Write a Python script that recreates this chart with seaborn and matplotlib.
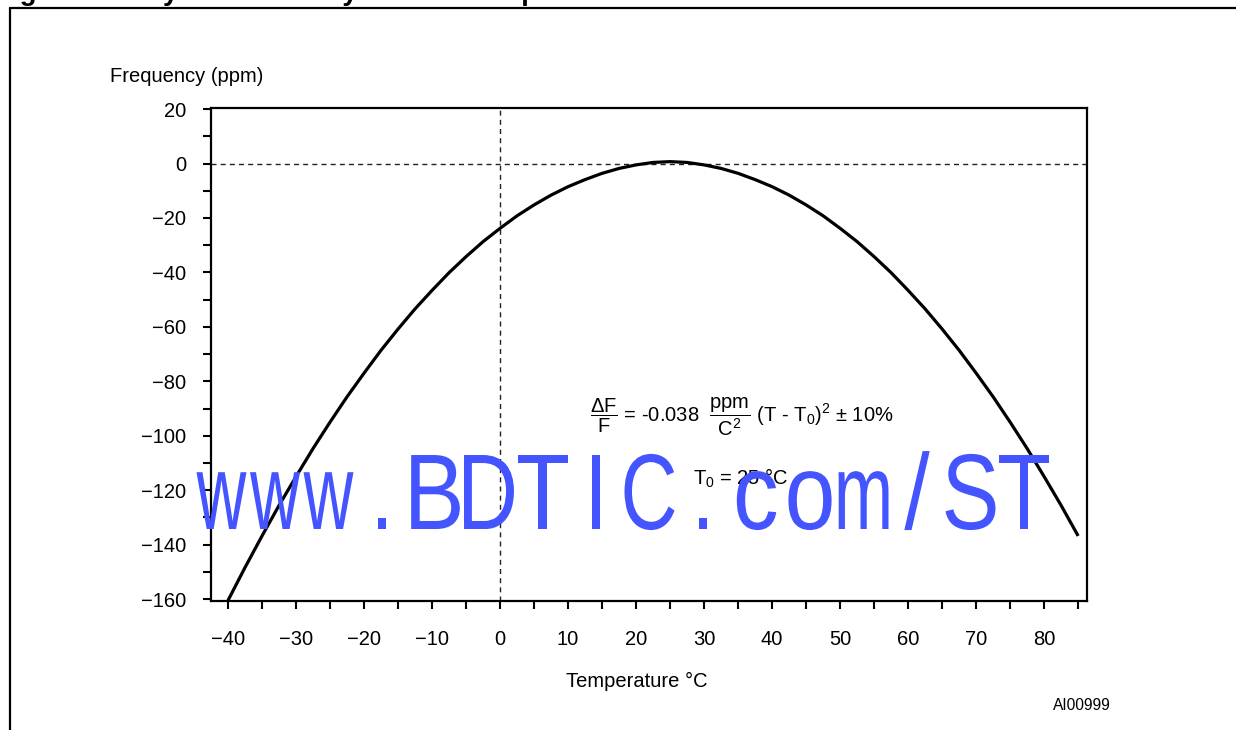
import matplotlib
matplotlib.use('Agg')
import matplotlib.pyplot as plt
import seaborn as sns
from matplotlib.lines import Line2D
from matplotlib.textpath import TextPath
from matplotlib.patches import PathPatch
from matplotlib.font_manager import FontProperties
from matplotlib.transforms import Affine2D, IdentityTransform

# Crystal frequency deviation, every 2.5 degrees
temperature = [-40, -37.5, -35, -32.5, -30, -27.5, -25, -22.5, -20, -17.5, -15, -12.5,
               -10, -7.5, -5, -2.5, 0, 2.5, 5, 7.5, 10, 12.5, 15, 17.5, 20, 22.5,
               25, 27.5, 30, 32.5, 35, 37.5, 40, 42.5, 45, 47.5, 50, 52.5, 55, 57.5,
               60, 62.5, 65, 67.5, 70, 72.5, 75, 77.5, 80, 82.5, 85]
frequency = [-160.5, -148.4, -136.8, -125.6, -115.0, -104.7, -95.0, -85.7, -77.0, -68.6,
             -60.8, -53.4, -46.6, -40.1, -34.2, -28.7, -23.8, -19.2, -15.2, -11.6,
             -8.5, -5.9, -3.6, -1.8, -0.5, 0.4, 0.7, 0.4, -0.5, -1.8, -3.6, -5.9,
             -8.5, -11.6, -15.2, -19.2, -23.8, -28.7, -34.2, -40.1, -46.6, -53.4,
             -60.8, -68.6, -77.0, -85.7, -95.0, -104.7, -115.0, -125.6, -136.8]

x_major = [-40, -30, -20, -10, 0, 10, 20, 30, 40, 50, 60, 70, 80]
x_minor = [-35, -25, -15, -5, 5, 15, 25, 35, 45, 55, 65, 75, 85]
y_major = [-160, -140, -120, -100, -80, -60, -40, -20, 0, 20]
y_minor = [-150, -130, -110, -90, -70, -50, -30, -10, 10]

sns.set_style('ticks')
plt.rcParams['font.family'] = ['Liberation Sans', 'DejaVu Sans']
plt.rcParams['text.color'] = 'black'
plt.rcParams['xtick.color'] = 'black'
plt.rcParams['ytick.color'] = 'black'
plt.rcParams['mathtext.fontset'] = 'custom'
plt.rcParams['mathtext.rm'] = 'Liberation Sans'
plt.rcParams['mathtext.it'] = 'Liberation Sans:italic'
plt.rcParams['mathtext.bf'] = 'Liberation Sans:bold'

W, H = 1236, 730
fig = plt.figure(figsize=(W / 100, H / 100), dpi=100)
ax = fig.add_axes([211 / W, 1 - 601 / H, (1087 - 211) / W, (601 - 108) / H])

sns.lineplot(x=temperature, y=frequency, color='black', linewidth=2.3, ax=ax,
             solid_joinstyle='round', solid_capstyle='butt')
ax.axhline(0, color='#222222', linewidth=1.0, dashes=(3.6, 3.0), zorder=1)
ax.axvline(0, color='#222222', linewidth=1.0, dashes=(3.6, 3.0), zorder=1)

ax.set_xlim(-42.5, 86.3)
ax.set_ylim(-160.7, 20.4)
ax.set_xticks(x_major)
ax.set_xticks(x_minor, minor=True)
ax.set_yticks(y_major)
ax.set_yticks(y_minor, minor=True)
ax.tick_params(which='both', direction='out', length=6, width=1.5, color='black')
ax.tick_params(axis='x', which='major', labelsize=14.5, pad=15, labelcolor='black')
ax.tick_params(axis='y', which='major', labelsize=14.5, pad=12, labelcolor='black')
for s in ax.spines.values():
    s.set_visible(True)
    s.set_linewidth(1.6)
    s.set_color('black')
ax.set_xlabel('')
ax.set_ylabel('')

# axis titles and annotations
fig.text(110 / W, 1 - 77 / H, 'Frequency (ppm)', fontsize=14.5, va='center', ha='left')
fig.text(637 / W, 1 - 681 / H, 'Temperature °C', fontsize=14.5, va='center', ha='center')
fig.text(1111 / W, 1 - 706 / H, 'AI00999', fontsize=11.2, va='center', ha='right')
fig.text(590 / W, 1 - 417 / H,
         r'$\dfrac{\Delta\mathrm{F}}{\mathrm{F}}$ = -0.038  $\dfrac{\mathrm{ppm}}{\mathrm{C^2}}$ (T - T$_0$)$^2$ ± 10%',
         fontsize=14.5, va='center', ha='left')
fig.text(693 / W, 1 - 478 / H, 'T$_0$ = 25 °C', fontsize=14.5, va='center', ha='left')

# page frame and the heading above it, cut off by the page edge
fig.add_artist(Line2D([10 / W, 10 / W], [0, 1 - 8 / H], color='black', linewidth=1.6))
fig.add_artist(Line2D([10 / W, 1], [1 - 8 / H, 1 - 8 / H], color='black', linewidth=1.6))
fig.text(-5 / W, 1.0, 'Figure 11. Crystal Accuracy Across Temperature',
         fontsize=20, fontweight='bold', va='baseline', ha='left')

# watermark, drawn as monospaced condensed glyphs
wm = 'www.BDTIC.com/ST'
fp = FontProperties(family='Liberation Sans')
size = 77 / 0.716
pitch = 53.5
first_center = 221.5
baseline = H - 529
for i, ch in enumerate(wm):
    tp = TextPath((0, 0), ch, size=size, prop=fp)
    bb = tp.get_extents()
    w = bb.x1 - bb.x0
    sx = min(0.85, 50 / w) if w > 0 else 1
    tr = Affine2D().translate(-(bb.x0 + bb.x1) / 2, 0).scale(sx, 1).translate(first_center + i * pitch, baseline)
    fig.add_artist(PathPatch(tr.transform_path(tp), transform=IdentityTransform(),
                             facecolor='#4455ff', edgecolor='none', zorder=5))

fig.savefig('out.png', dpi=100)
